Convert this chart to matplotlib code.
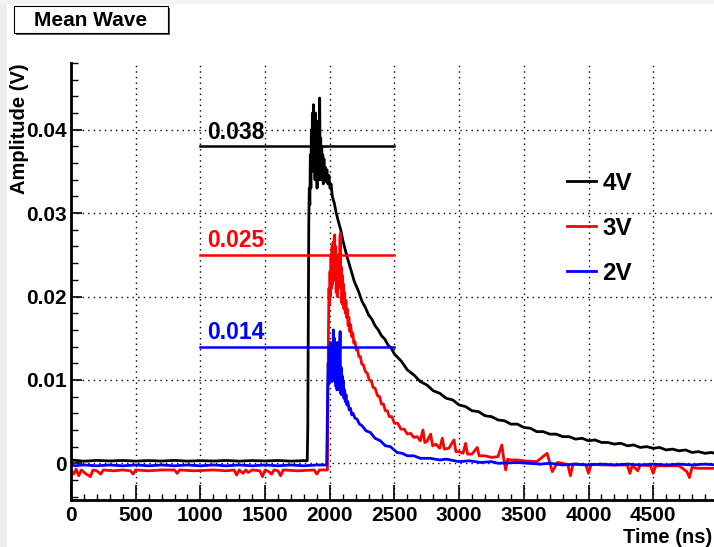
import matplotlib
matplotlib.use("Agg")
import matplotlib.pyplot as plt
from matplotlib.patches import Rectangle
from matplotlib.ticker import MultipleLocator

plt.rcParams['font.family'] = ['Liberation Sans', 'DejaVu Sans']
plt.rcParams['font.weight'] = 'bold'

# 4V mean wave, (time ns, amplitude V)
black_pts = [
    (0, 0.0004), (100, 0.00025), (200, 0.00035), (300, 0.00028), (400, 0.00034), (500, 0.00026),
    (600, 0.00033), (700, 0.00027), (800, 0.00035), (900, 0.00026), (1000, 0.00032),
    (1100, 0.00027), (1200, 0.00034), (1300, 0.00026), (1400, 0.00033), (1500, 0.00028),
    (1600, 0.00034), (1700, 0.00026), (1800, 0.00032), (1826, 0.0003), (1830, 0.004),
    (1834, 0.018), (1838, 0.029), (1842, 0.033), (1846, 0.031), (1850, 0.037), (1854, 0.033),
    (1858, 0.040), (1862, 0.035), (1866, 0.042), (1870, 0.036), (1874, 0.043), (1878, 0.037),
    (1882, 0.041), (1886, 0.034), (1890, 0.042), (1894, 0.036), (1898, 0.040), (1902, 0.033),
    (1906, 0.041), (1910, 0.035), (1914, 0.039), (1918, 0.034), (1922, 0.0438), (1926, 0.035),
    (1930, 0.039), (1934, 0.034), (1938, 0.038), (1942, 0.0345), (1946, 0.037), (1950, 0.0335),
    (1955, 0.0365), (1960, 0.034), (1965, 0.0355), (1970, 0.0338), (1978, 0.0352),
    (1986, 0.0335), (1994, 0.0345), (2002, 0.033), (2010, 0.0335), (2020, 0.032),
    (2035, 0.0312), (2050, 0.030), (2070, 0.0288), (2085, 0.0280), (2100, 0.0268),
    (2133, 0.0248), (2160, 0.0234), (2190, 0.0218), (2220, 0.0207), (2250, 0.0194),
    (2275, 0.0187), (2300, 0.0178), (2325, 0.0173), (2350, 0.0165), (2375, 0.0160),
    (2400, 0.0153), (2425, 0.0149), (2450, 0.0142), (2475, 0.0138), (2500, 0.0131),
    (2550, 0.0123), (2600, 0.0112), (2650, 0.0106), (2700, 0.0098), (2750, 0.0094),
    (2800, 0.0087), (2850, 0.0084), (2900, 0.0078), (2950, 0.0076), (3000, 0.0070),
    (3050, 0.0068), (3100, 0.0063), (3150, 0.0062), (3200, 0.0057), (3250, 0.0056),
    (3300, 0.0052), (3350, 0.0051), (3400, 0.0047), (3450, 0.0047), (3500, 0.0043),
    (3550, 0.0042), (3600, 0.0038), (3650, 0.0038), (3700, 0.0035), (3750, 0.0035),
    (3800, 0.0032), (3850, 0.0032), (3900, 0.0029), (3950, 0.0030), (4000, 0.0027),
    (4050, 0.0028), (4100, 0.0025), (4150, 0.0025), (4200, 0.0023), (4250, 0.0024),
    (4300, 0.0021), (4350, 0.0022), (4400, 0.0019), (4450, 0.0020), (4500, 0.0018),
    (4550, 0.0019), (4600, 0.0016), (4650, 0.0017), (4700, 0.0015), (4750, 0.0016),
    (4800, 0.0013), (4850, 0.0014), (4900, 0.0012), (4950, 0.0013), (5000, 0.0011)]

# 3V mean wave
red_pts = [
    (0, -0.0008), (20, -0.0013), (40, -0.0007), (60, -0.0015), (80, -0.0008), (110, -0.0012),
    (150, -0.0016), (170, -0.0008), (200, -0.0009), (230, -0.0013), (250, -0.0008),
    (330, -0.0009), (400, -0.0008), (460, -0.0009), (480, -0.0013), (500, -0.0008),
    (600, -0.0009), (700, -0.0008), (800, -0.0008), (820, -0.0012), (840, -0.0008),
    (950, -0.0009), (1100, -0.0008), (1200, -0.0009), (1260, -0.0008), (1280, -0.0014),
    (1300, -0.0008), (1330, -0.0012), (1350, -0.0008), (1370, -0.0011), (1400, -0.0008),
    (1460, -0.0009), (1480, -0.0016), (1500, -0.0008), (1530, -0.0010), (1550, -0.0013),
    (1570, -0.0008), (1600, -0.0009), (1620, -0.0015), (1640, -0.0008), (1750, -0.0009),
    (1880, -0.0008), (1900, -0.0013), (1920, -0.0008), (1982, -0.0008), (1985, 0.006),
    (1990, 0.016), (1994, 0.021), (1998, 0.019), (2002, 0.023), (2006, 0.020), (2010, 0.025),
    (2014, 0.021), (2018, 0.026), (2022, 0.0215), (2026, 0.0265), (2030, 0.022),
    (2034, 0.027), (2038, 0.0274), (2042, 0.022), (2046, 0.026), (2050, 0.0205),
    (2054, 0.025), (2058, 0.020), (2062, 0.0245), (2066, 0.021), (2070, 0.025), (2074, 0.022),
    (2078, 0.027), (2082, 0.0276), (2086, 0.021), (2090, 0.0235), (2094, 0.0192),
    (2098, 0.0225), (2102, 0.019), (2106, 0.0215), (2110, 0.0185), (2115, 0.0205),
    (2120, 0.018), (2125, 0.0195), (2130, 0.0175), (2136, 0.0185), (2142, 0.0165),
    (2148, 0.0175), (2155, 0.0158), (2162, 0.0166), (2170, 0.0152), (2178, 0.0156),
    (2186, 0.0144), (2195, 0.0146), (2205, 0.0136), (2215, 0.0137), (2225, 0.0128),
    (2236, 0.0128), (2248, 0.0119), (2260, 0.0118), (2275, 0.0110), (2290, 0.0108),
    (2305, 0.0100), (2320, 0.0099), (2335, 0.0091), (2350, 0.0090), (2370, 0.0081),
    (2385, 0.0080), (2400, 0.0071), (2415, 0.0071), (2430, 0.0063), (2445, 0.0063),
    (2460, 0.0056), (2480, 0.0056), (2500, 0.0048), (2525, 0.0048), (2550, 0.0041),
    (2575, 0.0041), (2600, 0.0035), (2625, 0.0036), (2650, 0.0031), (2675, 0.0032),
    (2700, 0.0027), (2720, 0.0040), (2735, 0.0025), (2750, 0.0026), (2780, 0.0035),
    (2795, 0.0021), (2820, 0.0023), (2850, 0.0018), (2870, 0.0030), (2885, 0.0017),
    (2920, 0.0018), (2960, 0.0028), (2975, 0.0014), (3000, 0.0014), (3030, 0.0012),
    (3050, 0.0024), (3065, 0.0011), (3100, 0.0011), (3140, 0.0019), (3155, 0.0009),
    (3200, 0.0009), (3250, 0.0007), (3300, 0.0008), (3330, 0.0022), (3345, 0.0005),
    (3360, -0.0008), (3375, 0.0005), (3400, 0.0004), (3450, 0.0004), (3500, 0.0003),
    (3600, 0.0002), (3680, 0.0012), (3700, 0.0001), (3720, -0.0010), (3760, 0.0001),
    (3800, 0.0), (3840, -0.0002), (3860, -0.0015), (3880, -0.0001), (3900, -0.0001),
    (3980, -0.0002), (4000, -0.0012), (4020, -0.0001), (4100, -0.0002), (4200, -0.0002),
    (4300, -0.0002), (4320, -0.0012), (4340, -0.0002), (4380, -0.0009), (4400, -0.0002),
    (4480, -0.0003), (4500, -0.0012), (4520, -0.0003), (4600, -0.0003), (4700, -0.0003),
    (4760, -0.0010), (4780, -0.0017), (4800, -0.0005), (4850, -0.0006), (4900, -0.0006),
    (5000, -0.0006)]

# 2V mean wave
blue_pts = [
    (0, 0.0005), (10, -0.0002), (30, -0.0003), (100, -0.0002), (200, -0.0003), (300, -0.0002),
    (400, -0.0003), (500, -0.0002), (600, -0.0003), (700, -0.0002), (800, -0.0003),
    (900, -0.0002), (1000, -0.0003), (1100, -0.0002), (1200, -0.0003), (1300, -0.0002),
    (1400, -0.0003), (1500, -0.0002), (1600, -0.0003), (1700, -0.0002), (1800, -0.0003),
    (1900, -0.0002), (1976, -0.0002), (1980, 0.004), (1984, 0.009), (1988, 0.012),
    (1992, 0.0095), (1996, 0.014), (2000, 0.0102), (2004, 0.0145), (2008, 0.010),
    (2012, 0.0135), (2016, 0.0098), (2020, 0.0142), (2024, 0.0105), (2028, 0.016),
    (2032, 0.011), (2036, 0.015), (2040, 0.0098), (2044, 0.0135), (2048, 0.0092),
    (2052, 0.0128), (2056, 0.0088), (2060, 0.0145), (2064, 0.0095), (2068, 0.013),
    (2072, 0.0088), (2076, 0.0125), (2080, 0.0158), (2084, 0.0084), (2088, 0.0115),
    (2092, 0.0082), (2096, 0.0105), (2100, 0.0084), (2105, 0.0098), (2110, 0.0078),
    (2115, 0.0088), (2120, 0.0074), (2126, 0.0082), (2132, 0.0070), (2140, 0.0074),
    (2150, 0.0064), (2160, 0.0066), (2170, 0.0058), (2180, 0.0060), (2195, 0.0054),
    (2211, 0.0053), (2230, 0.0047), (2250, 0.0045), (2280, 0.0039), (2314, 0.0037),
    (2350, 0.0030), (2391, 0.0027), (2430, 0.0021), (2468, 0.0020), (2520, 0.0013),
    (2560, 0.0012), (2600, 0.0009), (2650, 0.0009), (2700, 0.0006), (2777, 0.0006),
    (2850, 0.0004), (2900, 0.0005), (3000, 0.0002), (3080, 0.0003), (3164, 0.0001),
    (3250, 0.0002), (3300, 0.0), (3450, 0.0001), (3627, -0.0001), (3700, 0.0),
    (3800, -0.0002), (3900, -0.0001), (4000, -0.0002), (4100, -0.0001), (4200, -0.0002),
    (4300, -0.0001), (4400, -0.0002), (4500, -0.0001), (4600, -0.0002), (4700, -0.0001),
    (4800, -0.0002), (4900, -0.0001), (5000, -0.0002)]

labels = ['4V', '3V', '2V']
colors = ['black', 'red', 'blue']
levels = [0.038, 0.025, 0.014]
level_labels = ['0.038', '0.025', '0.014']
level_span = [1000, 2500]
xtick_vals = [0, 500, 1000, 1500, 2000, 2500, 3000, 3500, 4000, 4500]
ytick_vals = [0, 0.01, 0.02, 0.03, 0.04]
ytick_labels = ['0', '0.01', '0.02', '0.03', '0.04']

fig = plt.figure(figsize=(7.14, 5.47), dpi=100)
fig.patch.set_facecolor('white')
# light grey canvas border on left / top
fig.patches.append(Rectangle((0, 0), 7 / 714, 1, transform=fig.transFigure,
                             facecolor='#eeeeee', edgecolor='none', zorder=0))
fig.patches.append(Rectangle((0, 1 - 4 / 547), 1, 4 / 547, transform=fig.transFigure,
                             facecolor='#f4f4f4', edgecolor='none', zorder=0))

ax = fig.add_axes([71 / 714, 1 - 500 / 547, 1 - 71 / 714, 437 / 547])

for pts, c, lab in zip([black_pts, red_pts, blue_pts], colors, labels):
    t = [p[0] for p in pts]
    v = [p[1] for p in pts]
    ax.plot(t, v, color=c, lw=2.0, label=lab)

for lv, txt, c in zip(levels, level_labels, colors):
    ax.plot(level_span, [lv, lv], color=c, lw=1.8)
    ax.annotate(txt, (level_span[0] + 50, lv), xytext=(0, 2), textcoords='offset points',
                color=c, fontsize=16.5, fontweight='bold', ha='left', va='bottom')

ax.set_xlim(0, 4970)
ax.set_ylim(-0.0044, 0.048)
ax.xaxis.set_minor_locator(MultipleLocator(100))
ax.yaxis.set_minor_locator(MultipleLocator(0.002))
ax.set_xticks(xtick_vals)
ax.set_xticklabels([str(x) for x in xtick_vals])
ax.set_yticks(ytick_vals)
ax.set_yticklabels(ytick_labels)

ax.tick_params(axis='x', which='major', direction='in', length=11, width=1.2, pad=4,
               labelsize=15)
ax.tick_params(axis='x', which='minor', direction='in', length=4.5, width=1.0)
ax.tick_params(axis='y', which='major', direction='in', length=8, width=1.2, pad=3,
               labelsize=15)
ax.tick_params(axis='y', which='minor', direction='in', length=5, width=1.0)

ax.grid(True, which='major', color='black', linestyle=(0, (1, 3)), linewidth=1.0)
ax.set_axisbelow(True)
for s in ['top', 'right']:
    ax.spines[s].set_visible(False)
for s in ['left', 'bottom']:
    ax.spines[s].set_linewidth(2)

ax.set_xlabel('Time (ns)', fontsize=14.5, fontweight='bold', loc='right')
ax.xaxis.set_label_coords(0.997, -0.063)
ax.set_ylabel('Amplitude (V)', fontsize=14.5, fontweight='bold', loc='top')
ax.yaxis.set_label_coords(-0.065, 1.0)

ax.legend(loc='upper left', bbox_to_anchor=(567 / 714, 1 - 172 / 547),
          bbox_transform=fig.transFigure, frameon=False,
          handlelength=1.2, handletextpad=0.25, labelspacing=0.9,
          borderpad=0, borderaxespad=0, prop={'weight': 'bold', 'size': 17.5})

# title box with shadow
fig.patches.append(Rectangle((16 / 714, 1 - 35 / 547), 154 / 714, 27 / 547,
                             transform=fig.transFigure, facecolor='#555555',
                             edgecolor='none', zorder=1))
fig.patches.append(Rectangle((14 / 714, 1 - 33 / 547), 154 / 714, 27 / 547,
                             transform=fig.transFigure, facecolor='white',
                             edgecolor='black', lw=0.8, zorder=2))
fig.text(91 / 714, 1 - 20 / 547, 'Mean Wave', ha='center', va='center',
         fontsize=15, fontweight='bold', zorder=3)

fig.savefig('out.png', dpi=100)
